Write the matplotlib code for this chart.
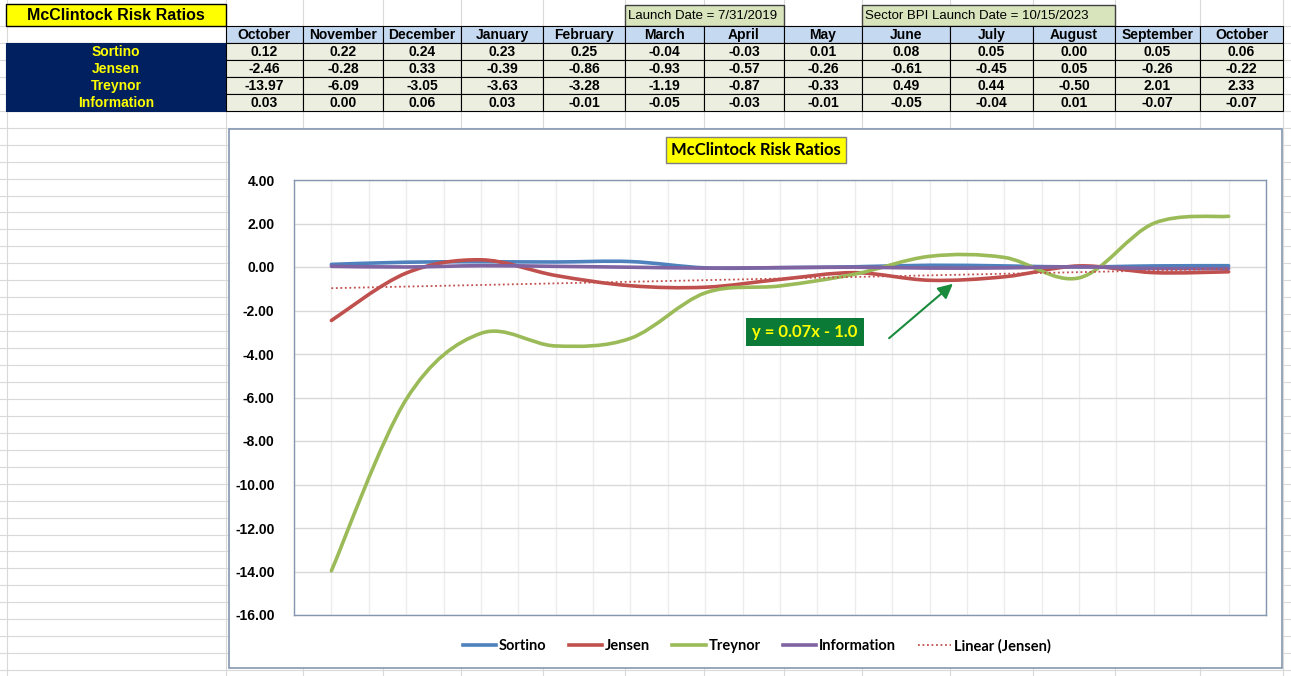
import numpy as np
import matplotlib
matplotlib.use('Agg')
import matplotlib.pyplot as plt
from matplotlib.path import Path
from matplotlib.patches import PathPatch, Rectangle
from matplotlib.lines import Line2D


TITLE = 'McClintock Risk Ratios'
LAUNCH_NOTE = 'Launch Date = 7/31/2019'
SECTOR_NOTE = 'Sector BPI Launch Date = 10/15/2023'
TREND_LABEL = 'y = 0.07x - 1.0'

MONTHS = ['October', 'November', 'December', 'January', 'February', 'March', 'April',
          'May', 'June', 'July', 'August', 'September', 'October']
SERIES = ['Sortino', 'Jensen', 'Treynor', 'Information']
SORTINO = [0.12, 0.22, 0.24, 0.23, 0.25, -0.04, -0.03, 0.01, 0.08, 0.05, 0.00, 0.05, 0.06]
JENSEN = [-2.46, -0.28, 0.33, -0.39, -0.86, -0.93, -0.57, -0.26, -0.61, -0.45, 0.05, -0.26, -0.22]
TREYNOR = [-13.97, -6.09, -3.05, -3.63, -3.28, -1.19, -0.87, -0.33, 0.49, 0.44, -0.50, 2.01, 2.33]
INFORMATION = [0.03, 0.00, 0.06, 0.03, -0.01, -0.05, -0.03, -0.01, -0.05, -0.04, 0.01, -0.07, -0.07]
Y_TICKS = [4, 2, 0, -2, -4, -6, -8, -10, -12, -14, -16]

COLORS = ['#4f81bd', '#c0504d', '#9bbb59', '#8064a2']

# sheet layout in pixels
W, H = 1291, 676
COL_EDGES = [226, 303, 383, 461, 543, 625, 704, 784, 862, 950, 1033, 1115, 1200, 1283]
HEADER_Y = (26, 43)
ROW_EDGES = [43, 60, 77, 94, 111]

NARROW = ['Liberation Sans Narrow', 'Liberation Sans']
ARIAL = ['Liberation Sans', 'DejaVu Sans']
CHART_FONT = ['Lato', 'DejaVu Sans']


def smooth_path(xs, ys):
    # excel style smoothed line: cubic bezier through every point
    pts = np.column_stack([xs, ys]).astype(float)
    n = len(pts)
    verts = [pts[0]]
    codes = [Path.MOVETO]
    for i in range(n - 1):
        p0 = pts[max(i - 1, 0)]
        p1 = pts[i]
        p2 = pts[i + 1]
        p3 = pts[min(i + 2, n - 1)]
        verts += [p1 + (p2 - p0) / 6, p2 - (p3 - p1) / 6, p2]
        codes += [Path.CURVE4] * 3
    return Path(verts, codes)


def draw_sheet(bg, values):
    bg.set_xlim(0, W)
    bg.set_ylim(H, 0)
    bg.axis('off')

    # spreadsheet cell lines
    for y in np.arange(26, H, 16.95):
        bg.plot([0, W], [y, y], color='#d9d9d9', lw=0.8, zorder=0)
    for x in [7] + COL_EDGES:
        bg.plot([x, x], [0, H], color='#d9d9d9', lw=0.8, zorder=0)

    # title cell
    bg.add_patch(Rectangle((6, 4), 220, 22, fc='#ffff00', ec='black', lw=1, zorder=2))
    bg.text(116, 15.5, TITLE, ha='center', va='center', fontsize=11.5,
            fontweight='bold', family=ARIAL, zorder=3)

    # launch notes
    for (c0, c1), note in [((5, 7), LAUNCH_NOTE), ((8, 11), SECTOR_NOTE)]:
        x0, x1 = COL_EDGES[c0], COL_EDGES[c1]
        bg.add_patch(Rectangle((x0, 5), x1 - x0, 21, fc='#d8e4bc', ec='#404040', lw=1, zorder=2))
        bg.text(x0 + 3, 16, note, ha='left', va='center', fontsize=9.5,
                family=NARROW, zorder=3)

    # header row
    for i, month in enumerate(MONTHS):
        x0, x1 = COL_EDGES[i], COL_EDGES[i + 1]
        bg.add_patch(Rectangle((x0, HEADER_Y[0]), x1 - x0, HEADER_Y[1] - HEADER_Y[0],
                               fc='#c5d9f1', ec='black', lw=0.8, zorder=2))
        bg.text((x0 + x1) / 2, sum(HEADER_Y) / 2 + 0.5, month, ha='center', va='center',
                fontsize=10, fontweight='bold', family=NARROW, zorder=3)

    # row labels block
    bg.add_patch(Rectangle((6, ROW_EDGES[0]), COL_EDGES[0] - 6, ROW_EDGES[-1] - ROW_EDGES[0],
                           fc='#002060', ec='#002060', lw=0.8, zorder=2))
    for r, name in enumerate(SERIES):
        y0, y1 = ROW_EDGES[r], ROW_EDGES[r + 1]
        bg.text(116, (y0 + y1) / 2 + 0.5, name, ha='center', va='center', color='#ffff00',
                fontsize=10, fontweight='bold', family=NARROW, zorder=3)
        for i, v in enumerate(values[r]):
            x0, x1 = COL_EDGES[i], COL_EDGES[i + 1]
            bg.add_patch(Rectangle((x0, y0), x1 - x0, y1 - y0, fc='#ecefe0', ec='black',
                                   lw=0.8, zorder=2))
            bg.text((x0 + x1) / 2, (y0 + y1) / 2 + 0.5, f'{v:.2f}', ha='center', va='center',
                    fontsize=10, fontweight='bold', family=NARROW, zorder=3)

    # chart frame
    bg.add_patch(Rectangle((229, 129), 1053, 539, fc='white', ec='#8497b0', lw=1.2, zorder=4))


def main():
    values = [SORTINO, JENSEN, TREYNOR, INFORMATION]

    fig = plt.figure(figsize=(W / 100, H / 100), dpi=100)
    bg = fig.add_axes([0, 0, 1, 1])
    draw_sheet(bg, values)

    # plot area
    left, right, top, bottom = 294, 1266, 180, 615
    ax = fig.add_axes([left / W, 1 - bottom / H, (right - left) / W, (bottom - top) / H])
    ax.set_facecolor('none')
    x = np.arange(len(MONTHS))
    ax.set_xlim(-0.5, len(MONTHS) - 0.5)
    ax.set_ylim(min(Y_TICKS), max(Y_TICKS))
    ax.set_yticks(Y_TICKS)
    ax.set_yticklabels([f'{t:.2f}' for t in Y_TICKS], fontweight='bold', family=ARIAL, fontsize=10)
    ax.set_xticks(np.arange(-0.5, len(MONTHS), 0.5))
    ax.set_xticklabels([])
    ax.tick_params(length=0, pad=14)
    ax.grid(axis='y', color='#d9d9d9', lw=1)
    ax.grid(axis='x', color='#ececec', lw=1)
    ax.set_axisbelow(True)
    for s in ax.spines.values():
        s.set_color('#8497b0')
        s.set_linewidth(1)

    handles = []
    for name, vals, col in zip(SERIES, values, COLORS):
        ax.add_patch(PathPatch(smooth_path(x, vals), fc='none', ec=col, lw=2.6,
                               capstyle='round', zorder=3))
        handles.append(Line2D([], [], color=col, lw=2.6))

    # linear trend of Jensen (x counted from 1 like excel)
    slope, intercept = np.polyfit(x + 1, JENSEN, 1)
    ax.plot(x, slope * (x + 1) + intercept, color='#c0504d', lw=1.3, ls=(0, (1, 1.5)), zorder=4)
    handles.append(Line2D([], [], color='#c0504d', lw=1.3, ls=(0, (1, 1.5))))

    fig.legend(handles, SERIES + ['Linear (Jensen)'], loc='center', ncol=5, frameon=False,
               bbox_to_anchor=(757 / W, 1 - 646 / H), handlelength=2.3, handletextpad=0.2,
               columnspacing=1.5, prop={'family': CHART_FONT, 'weight': 'bold', 'size': 10.5})

    fig.text(756 / W, 1 - 150 / H, TITLE, ha='center', va='center', fontsize=12,
             fontweight='bold', family=CHART_FONT,
             bbox=dict(boxstyle='square,pad=0.3', fc='#ffff00', ec='#7f7f7f', lw=1))

    fig.text(805 / W, 1 - 332 / H, TREND_LABEL, ha='center', va='center', fontsize=12,
             fontweight='bold', family=CHART_FONT, color='#ffff00',
             bbox=dict(boxstyle='square,pad=0.35', fc='#0b7a37', ec='none'))

    ax.annotate('', xy=(955, H - 282), xytext=(887, H - 340), xycoords='figure pixels',
                textcoords='figure pixels',
                arrowprops=dict(arrowstyle='-|>', color='#1a8a3c', lw=1.5, mutation_scale=22))

    fig.savefig('out.png', dpi=100)


if __name__ == '__main__':
    main()
